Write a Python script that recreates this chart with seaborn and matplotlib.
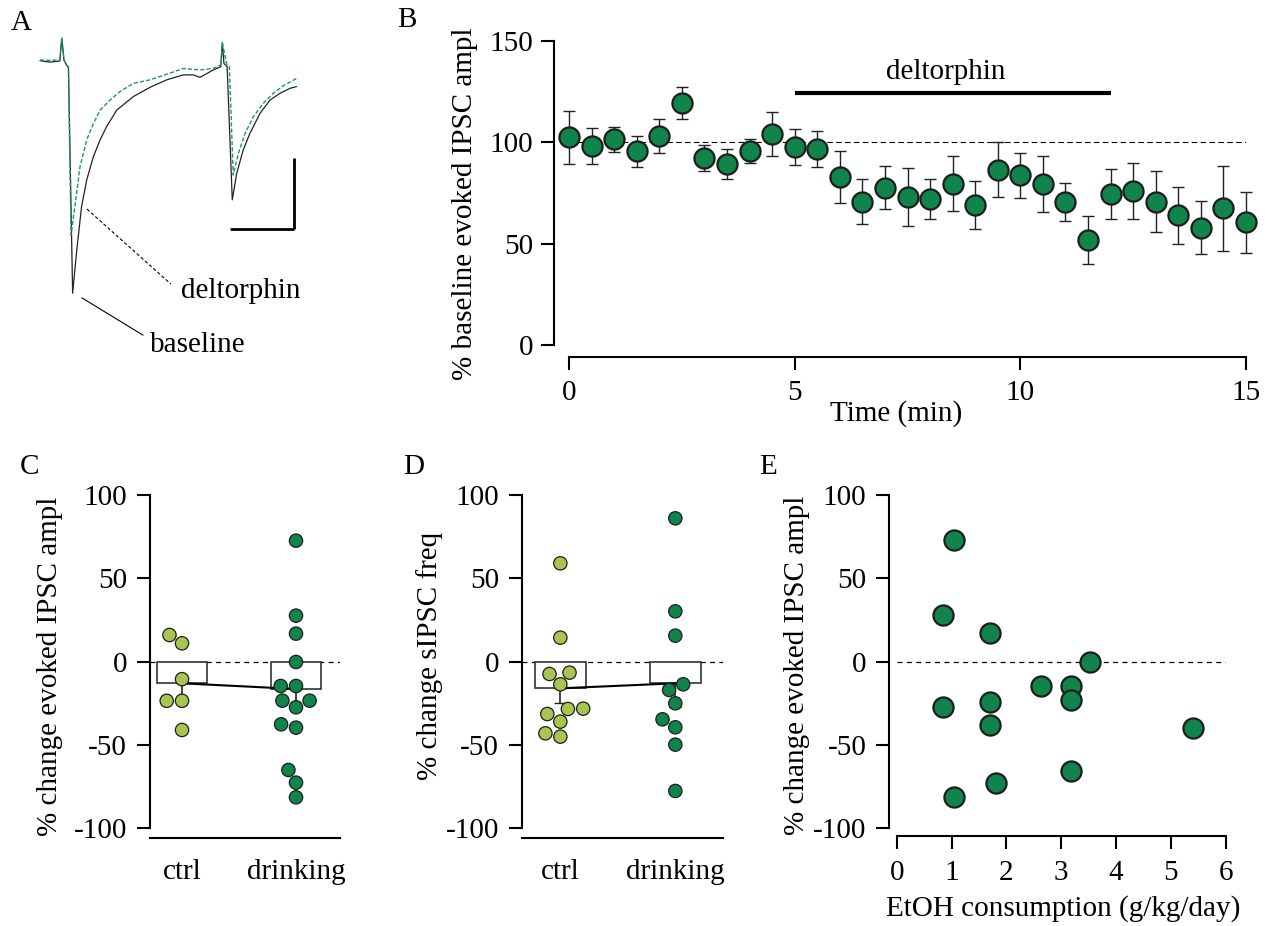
import numpy as np
import pandas as pd
import matplotlib
matplotlib.use("Agg")
import matplotlib.pyplot as plt
import seaborn as sns

# ---------------- data ----------------
# Panel A: example traces (time in ms, current in pA)
trace_t_baseline = [0, 3, 6.2, 6.8, 7.5, 8.3, 8.9, 10.2, 11.5, 13.0, 14.6, 16.7, 18.8, 20.8, 24.0,
                    29.2, 34.4, 39.6, 44.8, 47.9, 50.0, 54.2, 56.5, 57.0, 57.5, 58.5, 60.1, 61.5,
                    63.5, 65.6, 68.8, 71.9, 75.0, 78.1, 80.2]
trace_i_baseline = [0, -4, -1, 63, 2, -12, -20, -655, -533, -411, -336, -270, -223, -186, -139,
                    -101, -75, -54, -40, -40, -47, -26, -17, 51, -8, -17, -392, -317,
                    -252, -205, -148, -111, -92, -78, -73]
trace_t_delt = [0, 3, 6.2, 6.8, 7.5, 8.3, 8.9, 9.7, 10.9, 12.5, 14.6, 16.7, 18.8, 21.9, 25.0,
                29.2, 34.4, 39.6, 44.8, 50.0, 54.2, 56.5, 57.0, 58.3, 59.2, 60.4, 62.0, 64.1,
                66.7, 69.8, 72.9, 76.0, 80.2]
trace_i_delt = [2, 1, 2, 63, 2, -12, -17, -491, -411, -299, -223, -177, -139, -111, -87,
                -64, -54, -38, -22, -26, -22, -12, 51, -8, -17, -322, -261, -205,
                -158, -120, -92, -71, -50]
scalebar_ms = 20
scalebar_pA = 200

# Panel B: time course
time_min = [0, 0.5, 1, 1.5, 2, 2.5, 3, 3.5, 4, 4.5, 5, 5.5, 6, 6.5, 7, 7.5, 8, 8.5, 9, 9.5,
            10, 10.5, 11, 11.5, 12, 12.5, 13, 13.5, 14, 14.5, 15]
ipsc_pct = [102.3, 98.0, 101.3, 95.4, 103.0, 119.4, 92.3, 89.2, 95.6, 104.0, 97.5, 96.7, 82.9,
            70.6, 77.5, 73.1, 71.9, 79.6, 69.0, 86.5, 83.6, 79.6, 70.3, 51.7, 74.5, 76.0, 70.6,
            64.0, 57.8, 67.3, 60.4]
ipsc_sem = [13, 9, 6, 7.5, 8.3, 8, 6.5, 7.5, 6, 11, 9, 9, 12.7, 11.2, 10.7, 14.3, 9.8, 13.5,
            11.7, 13.5, 11, 13.8, 9.4, 11.7, 12.3, 13.7, 15, 14, 13, 21, 15]
drug_start, drug_end = 5, 12

# Panel C: % change evoked IPSC amplitude
groups = ["ctrl", "drinking"]
evoked_ctrl = [16, 11, -10.5, -23.5, -23.5, -41]
evoked_drink = [72.6, 27.6, 16.8, -0.2, -14.6, -14.6, -23.4, -23.4, -27.4, -37.6, -39.6,
                -65, -72.6, -81.4]
evoked_mean = [-13, -16.4]
evoked_sem = [9, 10]

# Panel D: % change sIPSC frequency
freq_ctrl = [59, 14.4, -6.6, -7.4, -13.6, -28.2, -28.4, -31.4, -36, -43, -45]
freq_drink = [86, 30.2, 15.6, -13.6, -17, -25, -34.6, -39.4, -49.8, -77.6]
freq_mean = [-16, -13]
freq_sem = [8.8, 14]

# Panel E: EtOH consumption vs evoked IPSC change
etoh_gkgday = [1.05, 0.845, 1.71, 3.53, 2.63, 3.17, 3.17, 0.84, 1.71, 1.71, 5.40, 3.17, 1.82, 1.05]
evoked_change = [72.8, 28, 17, 0, -14.8, -14.8, -23.2, -27.4, -24, -37.8, -39.8, -65.6, -72.6, -81.4]

# ---------------- style ----------------
DARK = "#10844a"
LIGHT = "#a8c64f"
EDGE = "#1e1e1e"
FS = 21

sns.set_theme(style="ticks")
plt.rcParams["font.family"] = ["Liberation Serif", "DejaVu Serif"]
plt.rcParams["axes.unicode_minus"] = False
plt.rcParams["font.size"] = FS
plt.rcParams["axes.linewidth"] = 1.5
plt.rcParams["xtick.major.width"] = 1.5
plt.rcParams["ytick.major.width"] = 1.5
plt.rcParams["xtick.color"] = "black"
plt.rcParams["ytick.color"] = "black"
plt.rcParams["axes.edgecolor"] = "black"
plt.rcParams["text.color"] = "black"
plt.rcParams["axes.labelcolor"] = "black"

W, H = 1265, 926
fig = plt.figure(figsize=(W / 100, H / 100), dpi=100)


def px_axes(left, top, right, bottom):
    return fig.add_axes([left / W, 1 - bottom / H, (right - left) / W, (bottom - top) / H])


def style_axes(ax, left_out, bottom_out):
    sns.despine(ax=ax)
    ax.spines["left"].set_position(("outward", left_out * 0.72))
    ax.spines["bottom"].set_position(("outward", bottom_out * 0.72))
    ax.tick_params(axis="both", labelsize=FS, length=9.4, width=1.5, direction="out")
    ax.set_facecolor("none")


# ---------------- Panel A ----------------
axA = px_axes(35, 30, 310, 360)
axA.set_xlim(-1.56, 84.4)
axA.set_ylim(-843, 86.4)
axA.axis("off")
sns.lineplot(x=trace_t_baseline, y=trace_i_baseline, ax=axA, color="#222222", lw=0.9,
             estimator=None, sort=False)
sns.lineplot(x=trace_t_delt, y=trace_i_delt, ax=axA, color="#1a9a5a", lw=1.0,
             estimator=None, sort=False, linestyle=(0, (3, 1.5)))
sb_x0, sb_y0 = 59.4, -475
axA.plot([sb_x0, sb_x0 + scalebar_ms], [sb_y0, sb_y0], color="black", lw=2, solid_capstyle="butt")
axA.plot([sb_x0 + scalebar_ms] * 2, [sb_y0, sb_y0 + scalebar_pA], color="black", lw=2,
         solid_capstyle="butt")
axA.plot([14.7, 40.9], [-418, -629], color="black", lw=0.8, linestyle=(0, (3, 2)))
axA.plot([13.1, 32.2], [-668, -773], color="black", lw=0.8)
axA.text(62.8, -668, "deltorphin", ha="center", va="baseline", fontsize=FS)
axA.text(49.4, -820, "baseline", ha="center", va="baseline", fontsize=FS)

# ---------------- Panel B ----------------
axB = px_axes(569, 40.7, 1246, 345)
axB.set_xlim(0, 15)
axB.set_ylim(0, 150)
axB.axhline(100, color="black", lw=0.8, linestyle=(0, (5, 3)), zorder=1)
axB.errorbar(time_min, ipsc_pct, yerr=ipsc_sem, fmt="none", ecolor="#222222", elinewidth=1.0,
             capsize=4.3, capthick=1.0, zorder=2, clip_on=False)
sns.scatterplot(x=time_min, y=ipsc_pct, ax=axB, s=210, color=DARK, edgecolor=EDGE,
                linewidth=1.6, zorder=3, clip_on=False)
axB.plot([drug_start, drug_end], [124, 124], color="black", lw=3, solid_capstyle="butt")
axB.text(8.34, 131, "deltorphin", ha="center", va="baseline", fontsize=FS)
style_axes(axB, 15, 12.3)
axB.set_xticks([0, 5, 10, 15])
axB.set_yticks([0, 50, 100, 150])
axB.tick_params(axis="y", pad=5.8)
axB.tick_params(axis="x", pad=7)
axB.set_xlabel("Time (min)", fontsize=FS)
axB.set_ylabel("% baseline evoked IPSC ampl", fontsize=FS)
axB.xaxis.set_label_coords(0.483, -0.18)
axB.yaxis.set_label_coords(-0.134, 0.465)


# ---------------- Panels C / D ----------------
def bar_panel(ax, ctrl_vals, drink_vals, means, sems, xlim, ylabel, lab_x, lab_y):
    ax.axhline(0, color="black", lw=0.9, linestyle=(0, (4, 3.5)), zorder=1)
    sns.barplot(x=groups, y=means, ax=ax, color="white", edgecolor="#333333", linewidth=1.2,
                width=0.44, errorbar=None, zorder=2, saturation=1)
    ax.errorbar([0, 1], means, yerr=[sems, [0, 0]], fmt="none", ecolor="#222222",
                elinewidth=1.2, capsize=4, capthick=1.0, zorder=3)
    ax.plot([0, 1], means, color="black", lw=1.5, zorder=3)
    df = pd.DataFrame({"group": ["ctrl"] * len(ctrl_vals) + ["drinking"] * len(drink_vals),
                       "value": list(ctrl_vals) + list(drink_vals)})
    sns.swarmplot(data=df, x="group", y="value", hue="group", order=groups,
                  palette={"ctrl": LIGHT, "drinking": DARK}, size=9.6, edgecolor=EDGE,
                  linewidth=0.9, legend=False, ax=ax, zorder=4)
    ax.set_xlim(*xlim)
    ax.set_ylim(-100, 100)
    style_axes(ax, 0, 10)
    ax.set_yticks([-100, -50, 0, 50, 100])
    ax.tick_params(axis="x", length=0, pad=15)
    ax.tick_params(axis="y", pad=7)
    ax.set_xlabel("")
    ax.set_ylabel(ylabel, fontsize=FS)
    ax.yaxis.set_label_coords(lab_x, lab_y)


axC = px_axes(150, 495, 340, 828.3)
bar_panel(axC, evoked_ctrl, evoked_drink, evoked_mean, evoked_sem, (-0.281, 1.386),
          "% change evoked IPSC ampl", -0.458, 0.487)

axD = px_axes(521.7, 495, 722.7, 828.3)
bar_panel(axD, freq_ctrl, freq_drink, freq_mean, freq_sem, (-0.336, 1.412),
          "% change sIPSC freq", -0.392, 0.517)

# ---------------- Panel E ----------------
axE = px_axes(896.7, 495, 1225.7, 828.3)
axE.set_xlim(0, 6)
axE.set_ylim(-100, 100)
axE.axhline(0, color="black", lw=0.9, linestyle=(0, (4, 3.5)), zorder=1)
sns.scatterplot(x=etoh_gkgday, y=evoked_change, ax=axE, s=210, color=DARK, edgecolor=EDGE,
                linewidth=1.6, zorder=3, clip_on=False)
style_axes(axE, 7.4, 8)
axE.set_xticks(range(0, 7))
axE.set_yticks([-100, -50, 0, 50, 100])
axE.tick_params(axis="x", pad=8)
axE.tick_params(axis="y", pad=7)
axE.set_xlabel("EtOH consumption (g/kg/day)", fontsize=FS)
axE.set_ylabel("% change evoked IPSC ampl", fontsize=FS)
axE.xaxis.set_label_coords(0.5055, -0.2)
axE.yaxis.set_label_coords(-0.2635, 0.49)

# ---------------- panel letters ----------------
for letter, (x, y) in {"A": (11, 10), "B": (397, 7), "C": (20, 454), "D": (403, 454),
                       "E": (759, 454)}.items():
    fig.text(x / W, 1 - y / H, letter, ha="left", va="top", fontsize=FS)

fig.savefig("out.png", dpi=100)
